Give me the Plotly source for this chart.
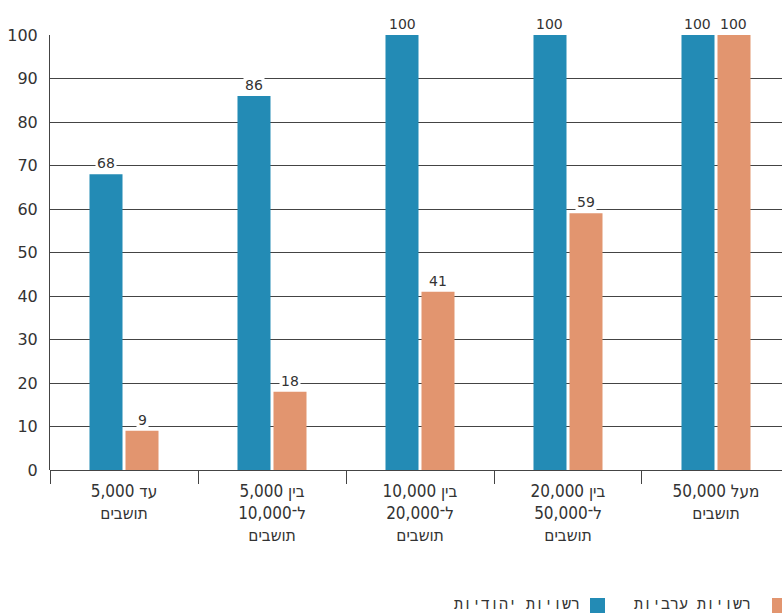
import plotly.graph_objects as go

# Municipalities with an approved plan, by population size (percent)
categories = [
    "עד 5,000<br>תושבים",
    "בין 5,000<br>ל־10,000<br>תושבים",
    "בין 10,000<br>ל־20,000<br>תושבים",
    "בין 20,000<br>ל־50,000<br>תושבים",
    "מעל 50,000<br>תושבים",
]
jewish = [68, 86, 100, 100, 100]
arab = [9, 18, 41, 59, 100]

series_names = ["רשויות יהודיות", "רשויות ערביות"]
colors = ["#238bb5", "#e2956f"]

FONT = "DejaVu Sans"
TEXT = "#333333"

fig = go.Figure()
for name, vals, col in zip(series_names, [jewish, arab], colors):
    fig.add_trace(go.Bar(
        x=categories, y=vals, name=name, marker_color=col,
        marker_line_width=0, showlegend=False,
    ))

# value labels with a white backing so gridlines break behind them
offsets = [-18, 18]
for vals, dx in zip([jewish, arab], offsets):
    for c, v in zip(categories, vals):
        fig.add_annotation(
            x=c, y=v, xref="x", yref="y", text=str(v), showarrow=False,
            xshift=dx, yshift=1, yanchor="bottom",
            font=dict(family=FONT, size=14, color=TEXT),
            bgcolor="white", borderpad=1,
        )

# legend drawn right-to-left: swatch on the right of each label
legend_items = [
    (series_names[1], colors[1], 0.9863, 0.9604),
    (series_names[0], colors[0], 0.7377, 0.7268),
]
for name, col, sx, tx in legend_items:
    fig.add_shape(type="rect", xref="paper", yref="paper",
                  x0=sx, x1=sx + 0.0205, y0=-0.3287, y1=-0.2943,
                  fillcolor=col, line_width=0)
    fig.add_annotation(xref="paper", yref="paper", x=tx, y=-0.3115,
                       text=name, showarrow=False, xanchor="right",
                       yanchor="middle",
                       font=dict(family="Liberation Mono", size=15,
                                 color=TEXT))

fig.update_layout(
    width=782, height=614,
    margin=dict(l=50, r=0, t=35, b=144),
    paper_bgcolor="white", plot_bgcolor="white",
    barmode="group", bargap=0.5135, bargroupgap=0.083,
    font=dict(family=FONT, size=16, color=TEXT),
)
fig.update_xaxes(
    range=[-0.5, 4.446], tickson="boundaries", ticks="outside",
    ticklen=13, tickcolor="#444444", tickwidth=1,
    showgrid=False, showline=False, ticklabelstandoff=9,
    tickfont=dict(family="DejaVu Sans Condensed", size=17, color=TEXT),
)
fig.update_yaxes(
    range=[0, 100], dtick=10, showgrid=True, gridcolor="#444444",
    gridwidth=1, zeroline=True, zerolinecolor="#444444",
    zerolinewidth=1, showline=True, linecolor="#444444", linewidth=1,
    ticks="", ticklabelstandoff=8,
    tickfont=dict(family=FONT, size=16, color=TEXT),
)

fig.write_html("out.html")
